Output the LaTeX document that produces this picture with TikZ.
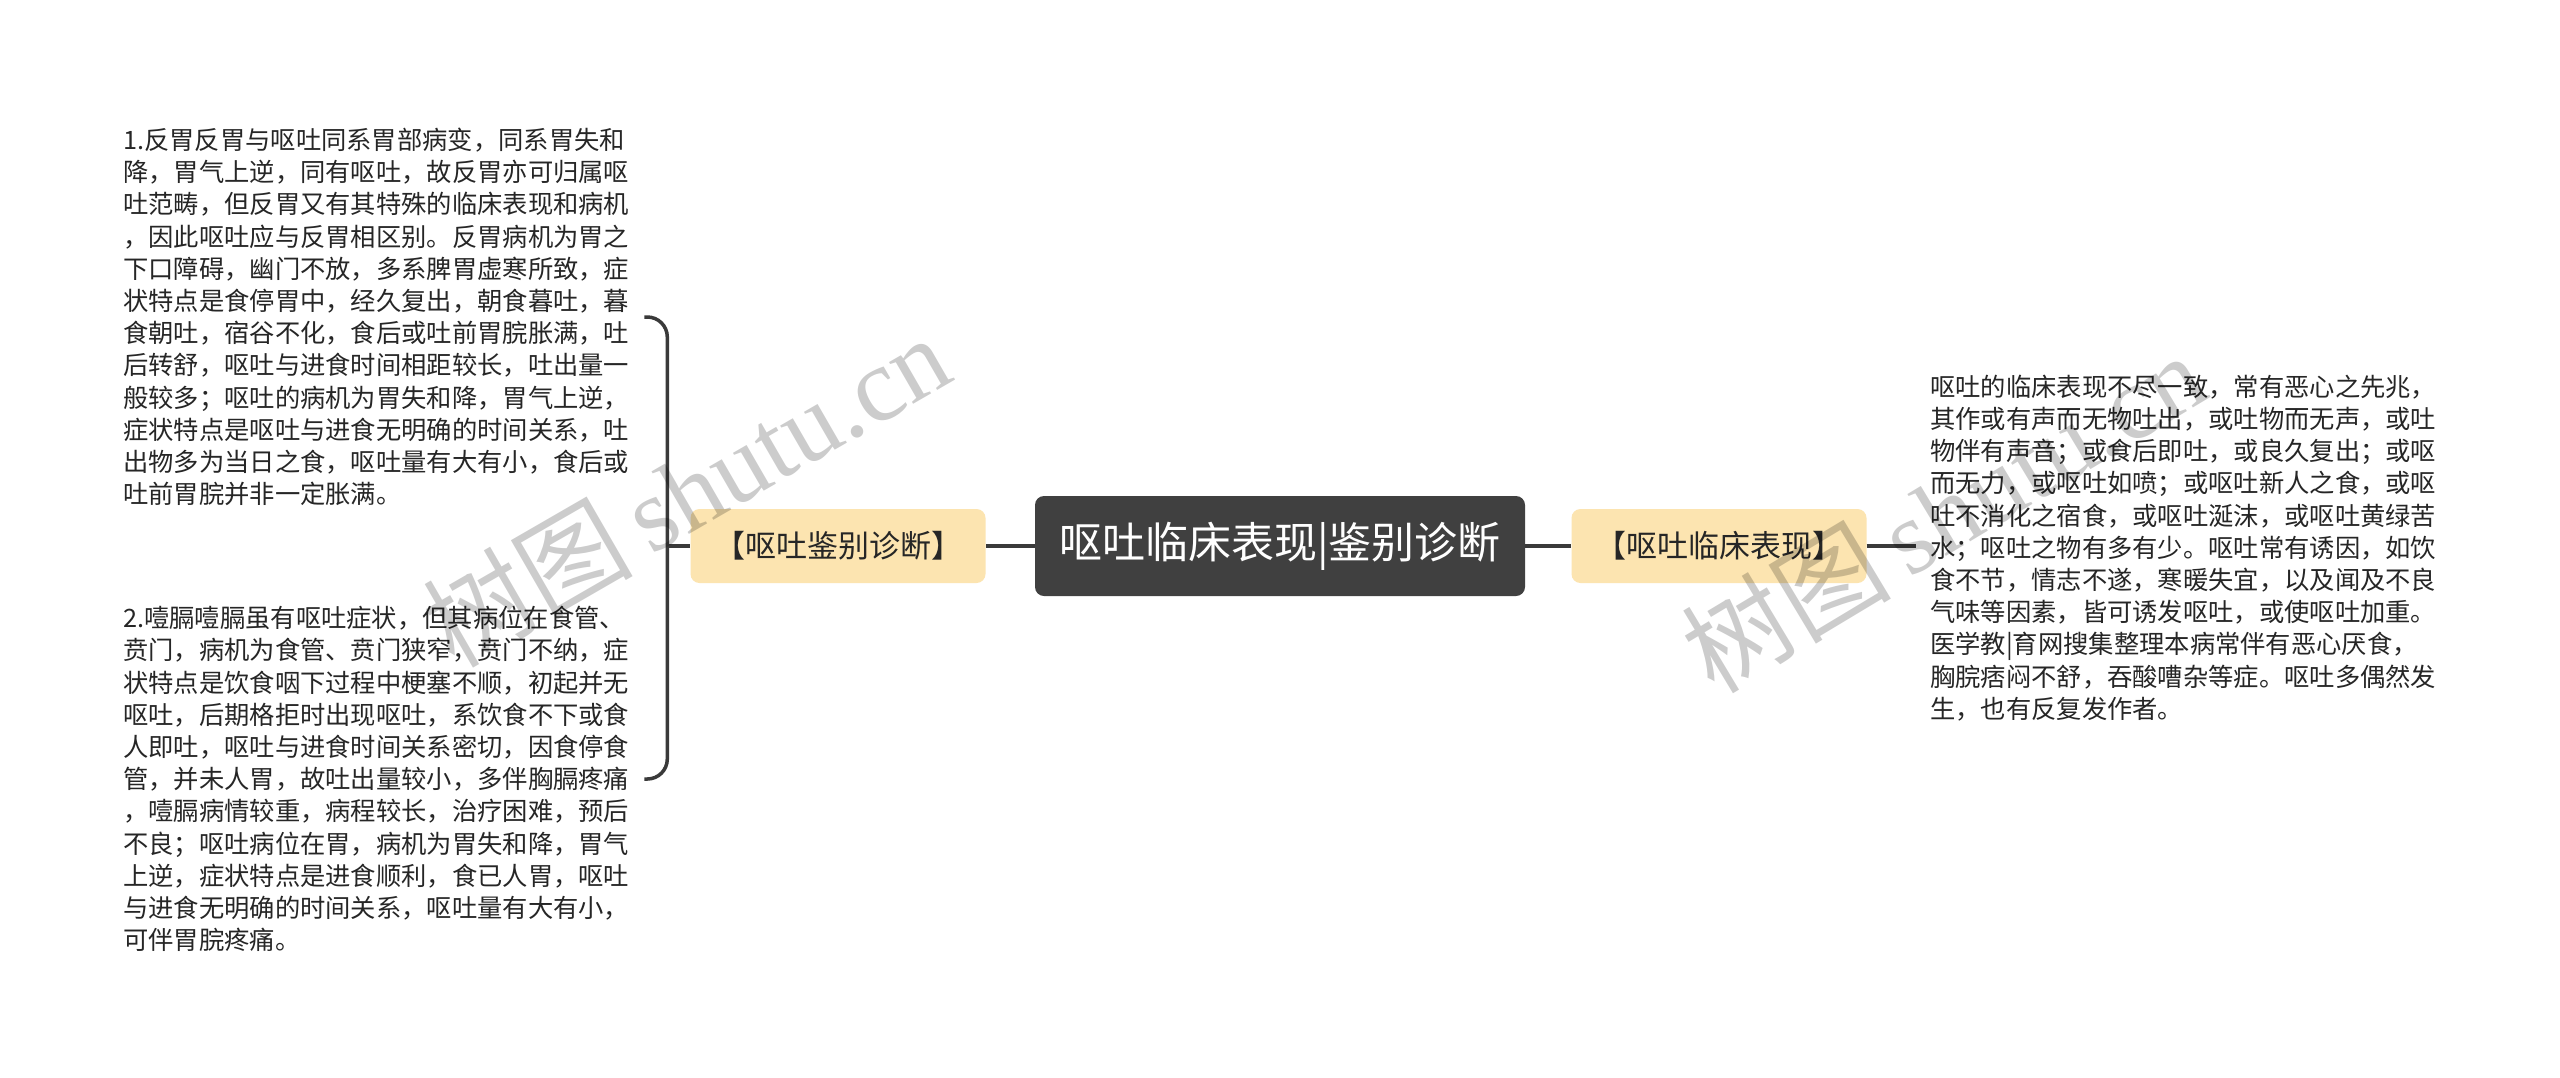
\documentclass[tikz,border=0pt]{standalone}
\usepackage{fontspec}
\setmainfont{Noto Sans CJK SC}
\newfontfamily\wmlatin{Liberation Serif}
\usetikzlibrary{calc}
\definecolor{rootgray}{RGB}{64,64,64}
\definecolor{branchyellow}{RGB}{252,228,176}
\definecolor{linegray}{RGB}{58,58,58}
\definecolor{textgray}{RGB}{38,38,38}
\tikzset{
	rootbox/.style={rectangle, rounded corners=9, fill=rootgray, text=white,
		minimum width=490, minimum height=100, inner sep=0,
		font=\fontsize{43}{50}\selectfont},
	branchbox/.style={rectangle, rounded corners=9, fill=branchyellow, text=textgray,
		minimum width=295, minimum height=74, inner sep=0,
		font=\fontsize{31}{36}\selectfont},
	leafnote/.style={align=left, inner sep=0, text=textgray,
		font=\fontsize{25.3}{32.2}\selectfont},
	link/.style={draw=linegray, line width=3.5},
	watermark/.style={text=black, text opacity=0.2, inner sep=0,
		font=\fontsize{105}{110}\selectfont}
}

\begin{document}
\begin{tikzpicture}[x=1pt, y=-1pt]
		\fill[white] (0,0) rectangle (2560,1077);
		\useasboundingbox (0,0) rectangle (2560,1077);
		
		% Root
		\node[rootbox] (root) at (1280,546) {呕吐临床表现|鉴别诊断};
		
		% Branches
		\node[branchbox] (diag) at ($(root) + (-442,0)$) {【呕吐鉴别诊断】};
		\node[branchbox] (clin) at ($(root) + (439,0)$) {【呕吐临床表现】};
		
		% Notes
		\node[leafnote, anchor=west] (diag1) at (123,317) {1.反胃反胃与呕吐同系胃部病变，同系胃失和\\
			降，胃气上逆，同有呕吐，故反胃亦可归属呕\\
			吐范畴，但反胃又有其特殊的临床表现和病机\\
			，因此呕吐应与反胃相区别。反胃病机为胃之\\
			下口障碍，幽门不放，多系脾胃虚寒所致，症\\
			状特点是食停胃中，经久复出，朝食暮吐，暮\\
			食朝吐，宿谷不化，食后或吐前胃脘胀满，吐\\
			后转舒，呕吐与进食时间相距较长，吐出量一\\
			般较多；呕吐的病机为胃失和降，胃气上逆，\\
			症状特点是呕吐与进食无明确的时间关系，吐\\
			出物多为当日之食，呕吐量有大有小，食后或\\
			吐前胃脘并非一定胀满。};
		\node[leafnote, anchor=west] (diag2) at (123,779) {2.噎膈噎膈虽有呕吐症状，但其病位在食管、\\
			贲门，病机为食管、贲门狭窄，贲门不纳，症\\
			状特点是饮食咽下过程中梗塞不顺，初起并无\\
			呕吐，后期格拒时出现呕吐，系饮食不下或食\\
			人即吐，呕吐与进食时间关系密切，因食停食\\
			管，并未人胃，故吐出量较小，多伴胸膈疼痛\\
			，噎膈病情较重，病程较长，治疗困难，预后\\
			不良；呕吐病位在胃，病机为胃失和降，胃气\\
			上逆，症状特点是进食顺利，食已人胃，呕吐\\
			与进食无明确的时间关系，呕吐量有大有小，\\
			可伴胃脘疼痛。};
		\node[leafnote, anchor=west] (clinnote) at (1930,548) {呕吐的临床表现不尽一致，常有恶心之先兆，\\
			其作或有声而无物吐出，或吐物而无声，或吐\\
			物伴有声音；或食后即吐，或良久复出；或呕\\
			而无力，或呕吐如喷；或呕吐新人之食，或呕\\
			吐不消化之宿食，或呕吐涎沫，或呕吐黄绿苦\\
			水；呕吐之物有多有少。呕吐常有诱因，如饮\\
			食不节，情志不遂，寒暖失宜，以及闻及不良\\
			气味等因素，皆可诱发呕吐，或使呕吐加重。\\
			医学教|育网搜集整理本病常伴有恶心厌食，\\
			胸脘痞闷不舒，吞酸嘈杂等症。呕吐多偶然发\\
			生，也有反复发作者。};
		
		% Connections
		\coordinate (brk) at ($(diag.west) + (-23,0)$);
		\draw[link] (root) -- (diag);
		\draw[link] (root) -- (clin);
		\draw[link] (brk) -- (diag.west);
		\draw[link, rounded corners=20] ($(diag1.east) + (15,0)$) -| (brk) |- ($(diag2.east) + (15,0)$);
		\draw[link, shorten >=14] (clin.east) -- (clin.east -| clinnote.west);
		
		% Watermarks
		\node[watermark, rotate=30] (wm1) at (686,490) {树图\,{\wmlatin shutu.cn}};
		\node[watermark, rotate=31] (wm2) at (1943,512) {树图\,{\wmlatin shutu.cn}};
	\end{tikzpicture}
\end{document}
